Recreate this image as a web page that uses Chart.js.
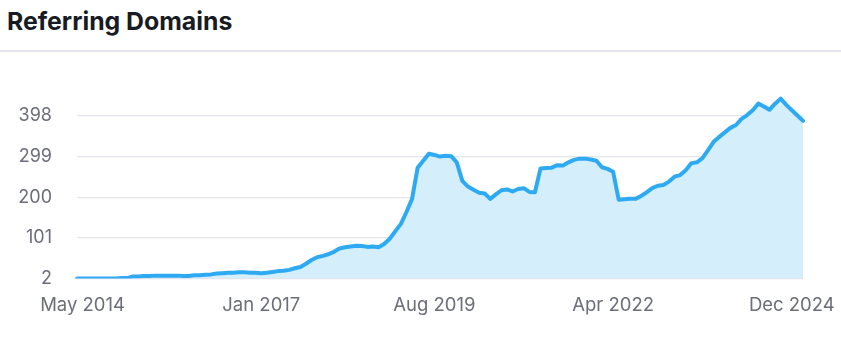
<!DOCTYPE html>
<html>
<head>
<meta charset="utf-8">
<script src="https://cdn.jsdelivr.net/npm/chart.js@4"></script>
<style>
  html, body { margin: 0; padding: 0; background: #fff; }
  body { width: 841px; height: 354px; position: relative; overflow: hidden; font-family: Inter, "Noto Sans", sans-serif; }
  #title { position: absolute; left: 7px; top: 9px; font: 700 24.8px/25px Inter, sans-serif; color: #191b23; letter-spacing: 0px; }
  #divider { position: absolute; left: 0; top: 50px; width: 841px; height: 2px; background: #e4e5ec; }
  #wrap { position: absolute; left: 0; top: 0; width: 841px; height: 354px; }
</style>
</head>
<body>
<div id="title">Referring Domains</div>
<div id="divider"></div>
<div id="wrap"><canvas id="c" width="841" height="354"></canvas></div>
<script>
// Monthly observations, Apr 2014 .. Feb 2025
const startYear = 2014, startMonth = 3; // April (0-based)
const monthNames = ['Jan','Feb','Mar','Apr','May','Jun','Jul','Aug','Sep','Oct','Nov','Dec'];
const months = [];
for (let i = 0; i < 131; i++) {
  const m = startMonth + i;
  months.push(monthNames[m % 12] + ' ' + (startYear + Math.floor(m / 12)));
}
const domains = [
  2, 2, 2, 2, 2, 2, 2, 2, 3, 3,
  7, 7, 8, 8, 9, 9, 9, 9, 9, 8,
  8, 10, 10, 11, 12, 14, 15, 16, 16, 17,
  17, 16, 16, 15, 16, 18, 20, 21, 23, 27,
  30, 38, 47, 54, 57, 61, 67, 75, 78, 80,
  82, 81, 79, 80, 78, 86, 99, 117, 135, 164,
  196, 272, 289, 306, 303, 299, 301, 300, 285, 240,
  226, 218, 211, 209, 196, 207, 217, 219, 214, 220,
  222, 213, 212, 270, 271, 272, 278, 277, 285, 291,
  294, 294, 292, 289, 273, 269, 262, 194, 195, 196,
  196, 203, 212, 222, 228, 230, 238, 250, 254, 266,
  283, 285, 295, 315, 335, 347, 358, 369, 376, 391,
  400, 412, 428, 421, 413, 428, 440, 425, 412, 399,
  386
];
const xTickLabels = ['May 2014', 'Jan 2017', 'Aug 2019', 'Apr 2022', 'Dec 2024'];
const yTickValues = [2, 101, 200, 299, 398];

new Chart(document.getElementById('c'), {
  type: 'line',
  data: {
    labels: months,
    datasets: [{
      data: domains,
      borderColor: '#2eaaf3',
      backgroundColor: '#d5eefc',
      borderWidth: 4,
      pointRadius: 0,
      tension: 0,
      fill: 'start',
      borderJoinStyle: 'round',
      borderCapStyle: 'round'
    }]
  },
  options: {
    responsive: false,
    animation: false,
    devicePixelRatio: 1,
    layout: { padding: { left: 0, right: 38, top: 94.6, bottom: 0 } },
    plugins: { legend: { display: false }, tooltip: { enabled: false }, title: { display: false } },
    scales: {
      x: {
        type: 'category',
        offset: false,
        grid: { display: false, drawTicks: false },
        border: { display: false },
        ticks: {
          autoSkip: false, maxRotation: 0, minRotation: 0, padding: 16,
          color: '#6c6e79', font: { family: 'Inter', size: 18.5 }
        },
        afterBuildTicks: (s) => { s.ticks = s.ticks.filter(t => xTickLabels.includes(months[t.value])); },
        afterFit: (s) => { s.height = 354 - 278.5; s.paddingLeft = 0; s.paddingRight = 0; }
      },
      y: {
        min: 2, max: 450,
        grid: { color: '#e4e4ec', lineWidth: 1.2, drawTicks: false },
        border: { display: false },
        ticks: { padding: 25, color: '#6c6e79', font: { family: 'Inter', size: 18 } },
        afterBuildTicks: (s) => { s.ticks = yTickValues.map(v => ({ value: v })); },
        afterFit: (s) => { s.width = 77; s.paddingTop = 0; s.paddingBottom = 0; }
      }
    }
  }
});
</script>
</body>
</html>
